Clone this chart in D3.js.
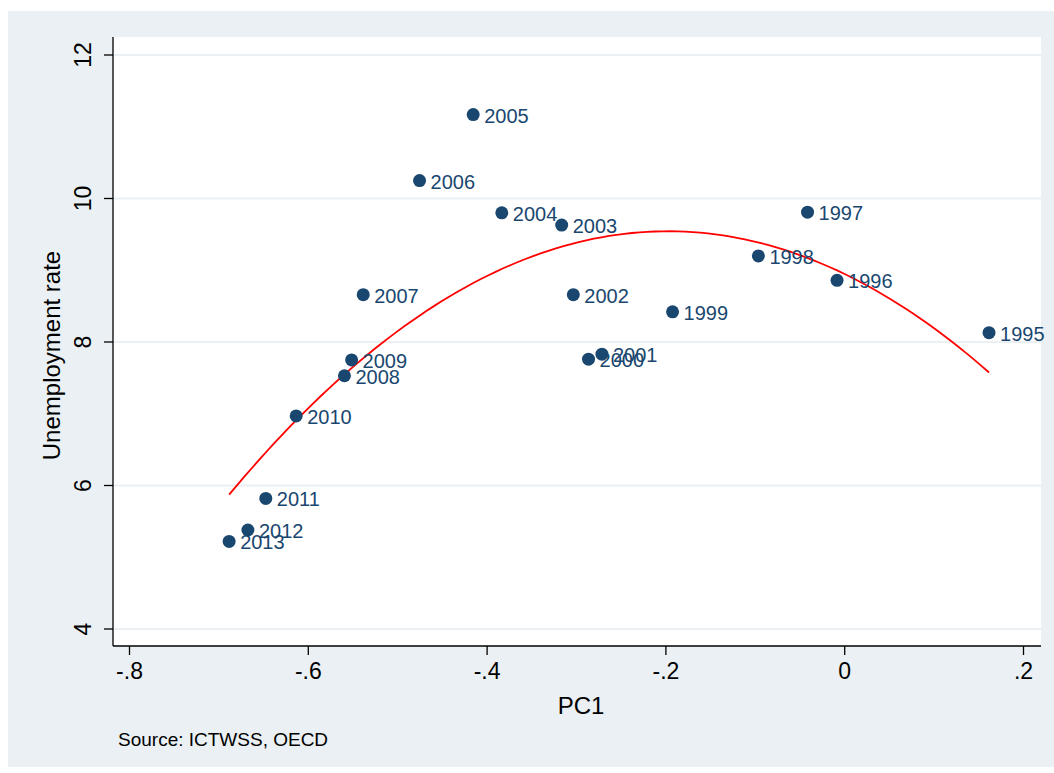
<!DOCTYPE html>
<html><head><meta charset="utf-8">
<script src="https://cdn.jsdelivr.net/npm/d3@7"></script>
<style>body{margin:0;background:#fff}</style>
</head><body>
<svg id="chart" width="1054" height="773"></svg>
<script>
const years = [2005, 2006, 2004, 2003, 1997, 1998, 1996, 1995, 1999, 2002, 2007, 2001, 2000, 2009, 2008, 2010, 2011, 2012, 2013];
const pc1 = [-0.415, -0.475, -0.383, -0.316, -0.041, -0.096, -0.008, 0.162, -0.192, -0.303, -0.538, -0.271, -0.286, -0.551, -0.559, -0.613, -0.647, -0.667, -0.688];
const unemp = [11.17, 10.25, 9.80, 9.63, 9.81, 9.20, 8.86, 8.13, 8.42, 8.66, 8.66, 7.83, 7.76, 7.75, 7.53, 6.97, 5.82, 5.38, 5.22];
const xTicks = [-0.8, -0.6, -0.4, -0.2, 0, 0.2];
const xTickLabels = ["-.8", "-.6", "-.4", "-.2", "0", ".2"];
const yTicks = [4, 6, 8, 10, 12];

const svg = d3.select("#chart");
svg.append("rect").attr("x", 8).attr("y", 11).attr("width", 1046).attr("height", 756).attr("fill", "#eaf0f3");
const plot = { left: 113, right: 1041, top: 37, bottom: 646 };
svg.append("rect").attr("x", plot.left).attr("y", plot.top)
  .attr("width", plot.right - plot.left).attr("height", plot.bottom - plot.top).attr("fill", "#fff");

const x = d3.scaleLinear().domain([-0.8, 0.2]).range([129, 1023]);
const y = d3.scaleLinear().domain([4, 12]).range([629, 55]);
const font = "Liberation Sans, Arial, sans-serif";

// gridlines
svg.append("g").selectAll("line").data(yTicks).join("line")
  .attr("x1", plot.left).attr("x2", plot.right)
  .attr("y1", d => y(d)).attr("y2", d => y(d))
  .attr("stroke", "#eaf0f3").attr("stroke-width", 2);

// axes
const xa = svg.append("g").attr("transform", `translate(0,${plot.bottom})`)
  .call(d3.axisBottom(x).tickValues(xTicks).tickFormat((d, i) => xTickLabels[i]).tickSize(9).tickPadding(8).tickSizeOuter(0));
xa.select(".domain").attr("d", `M${plot.left},0H${plot.right}`);
const ya = svg.append("g").attr("transform", `translate(${plot.left},0)`)
  .call(d3.axisLeft(y).tickValues(yTicks).tickSize(9).tickPadding(8).tickSizeOuter(0));
ya.select(".domain").attr("d", `M0,${plot.top}V${plot.bottom}`);
[xa, ya].forEach(a => {
  a.selectAll("path,line").attr("stroke", "#000").attr("stroke-width", 1.3);
  a.selectAll("text").attr("font-family", font).attr("font-size", 23).attr("fill", "#000");
});
ya.selectAll(".tick text").attr("text-anchor", "middle").attr("dy", null)
  .attr("transform", d => `translate(-28,${y(d)}) rotate(-90)`).attr("x", 0).attr("y", 0)
  .attr("dominant-baseline", "middle");
ya.selectAll(".tick").attr("transform", null);
ya.selectAll(".tick line").attr("y1", d => y(d)).attr("y2", d => y(d));

svg.append("text").attr("x", (plot.left + plot.right) / 2 + 4).attr("y", 714).attr("text-anchor", "middle")
  .attr("font-family", font).attr("font-size", 24).text("PC1");
svg.append("text").attr("transform", `translate(60,${(plot.top + plot.bottom) / 2 + 14}) rotate(-90)`)
  .attr("text-anchor", "middle").attr("font-family", font).attr("font-size", 24).text("Unemployment rate");
svg.append("text").attr("x", 118).attr("y", 746).attr("font-family", font).attr("font-size", 19).text("Source: ICTWSS, OECD");

// quadratic least-squares fit
const n = pc1.length;
const S = k => d3.sum(pc1, v => Math.pow(v, k));
const T = k => d3.sum(pc1, (v, i) => Math.pow(v, k) * unemp[i]);
const A = [[n, S(1), S(2)], [S(1), S(2), S(3)], [S(2), S(3), S(4)]];
const B = [T(0), T(1), T(2)];
function solve(A, B) {
  const M = A.map((r, i) => [...r, B[i]]);
  for (let i = 0; i < 3; i++) {
    for (let j = i + 1; j < 3; j++) {
      const f = M[j][i] / M[i][i];
      for (let k = i; k < 4; k++) M[j][k] -= f * M[i][k];
    }
  }
  const c = [0, 0, 0];
  for (let i = 2; i >= 0; i--) {
    c[i] = (M[i][3] - (i < 2 ? M[i][i + 1] * c[i + 1] : 0) - (i < 1 ? M[i][i + 2] * c[i + 2] : 0)) / M[i][i];
  }
  return c;
}
const c = solve(A, B);
const [xmin, xmax] = d3.extent(pc1);
const curve = d3.range(0, 101).map(i => {
  const v = xmin + (xmax - xmin) * i / 100;
  return [x(v), y(c[0] + c[1] * v + c[2] * v * v)];
});
svg.append("path").attr("d", d3.line()(curve)).attr("fill", "none").attr("stroke", "#ff0000").attr("stroke-width", 1.8);

// points and labels
const pts = svg.append("g").selectAll("g").data(years.map((yr, i) => ({ yr, px: pc1[i], u: unemp[i] }))).join("g")
  .attr("transform", d => `translate(${x(d.px)},${y(d.u)})`);
pts.append("circle").attr("r", 6.5).attr("fill", "#1a476f");
pts.append("text").attr("x", 11).attr("y", 8).attr("font-family", font).attr("font-size", 20)
  .attr("fill", "#1a476f").text(d => d.yr);
</script>
</body></html>
